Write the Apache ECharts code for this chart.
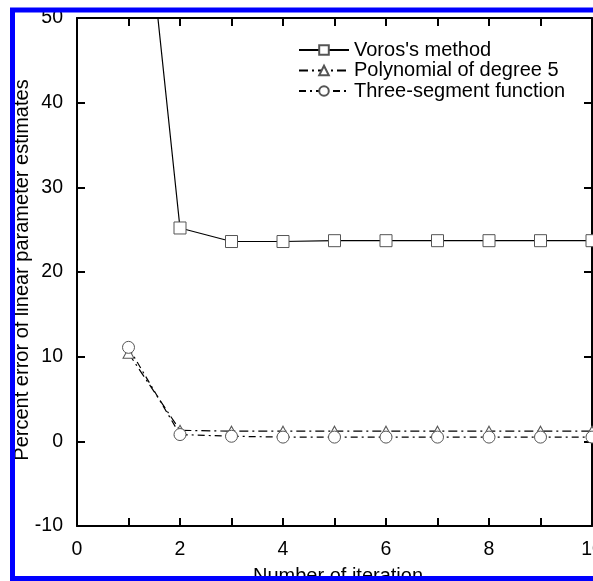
<!DOCTYPE html>
<html><head><meta charset="utf-8">
<script src="https://cdn.jsdelivr.net/npm/echarts@6/dist/echarts.min.js"></script>
<style>html,body{margin:0;padding:0;background:#fff;overflow:hidden}#c{width:593px;height:581px}</style>
</head><body><div id="c"></div>
<script>
const iterations = [1,2,3,4,5,6,7,8,9,10];
const voros = [83, 25.2, 23.6, 23.6, 23.7, 23.7, 23.7, 23.7, 23.7, 23.7];
const poly5 = [10.4, 1.3, 1.2, 1.2, 1.2, 1.2, 1.2, 1.2, 1.2, 1.2];
const threeSeg = [11.1, 0.8, 0.6, 0.5, 0.5, 0.5, 0.5, 0.5, 0.5, 0.5];
const seriesNames = ["Voros's method", "Polynomial of degree 5", "Three-segment function"];
const xTitle = "Number of iteration";
const yTitle = "Percent error of linear parameter estimates";

const FONT = "'Liberation Sans', Arial, sans-serif";
const pair = arr => iterations.map((x,i)=>[x, arr[i]]);
const chart = echarts.init(document.getElementById('c'), null, {renderer:'canvas'});
const axisCommon = {
  axisLine:{show:true, onZero:false, lineStyle:{color:'#000', width:2}},
  axisTick:{show:true, inside:true, length:8, lineStyle:{color:'#000', width:2}},
  splitLine:{show:false}
};
const markerStyle = {color:'#fff', borderColor:'#555', borderWidth:1};
chart.setOption({
  animation:false,
  grid:{left:77, top:18, width:515, height:508, containLabel:false, outerBoundsMode:'none'},
  xAxis:[
    Object.assign({type:'value', min:0, max:10, interval:1, position:'bottom',
      axisLabel:{color:'#000', fontSize:19.5, fontFamily:FONT, margin:14, hideOverlap:false,
        formatter:v => (v % 2 === 0 ? String(v) : '')}}, axisCommon),
    Object.assign({type:'value', min:0, max:10, interval:1, position:'top',
      axisLabel:{show:false}}, axisCommon)
  ],
  yAxis:[
    Object.assign({type:'value', min:-10, max:50, interval:10, position:'left',
      axisLabel:{color:'#000', fontSize:19.5, fontFamily:FONT, margin:14}}, axisCommon),
    Object.assign({type:'value', min:-10, max:50, interval:10, position:'right',
      axisLabel:{show:false}}, axisCommon)
  ],
  legend:{
    left:298, top:40, orient:'vertical', itemWidth:50, itemHeight:12, itemGap:0.5, padding:0,
    textStyle:{color:'#000', fontSize:20, lineHeight:20, fontFamily:FONT},
    data:seriesNames
  },
  series:[
    {name:seriesNames[0], type:'line', data:pair(voros), clip:true,
      symbol:'rect', symbolSize:12, itemStyle:markerStyle,
      lineStyle:{color:'#000', width:1.2, type:'solid'}},
    {name:seriesNames[1], type:'line', data:pair(poly5), clip:true,
      symbol:'triangle', symbolSize:[11,10], itemStyle:markerStyle,
      lineStyle:{color:'#000', width:1.2, type:[9,4,2,4]}},
    {name:seriesNames[2], type:'line', data:pair(threeSeg), clip:true,
      symbol:'circle', symbolSize:12, itemStyle:markerStyle,
      lineStyle:{color:'#000', width:1.2, type:[7,4,2,4]}}
  ],
  graphic:[
    {type:'text', x:22, y:270, rotation:Math.PI/2, z:10,
      style:{text:yTitle, fill:'#000', font:'20px '+FONT, textAlign:'center', textVerticalAlign:'middle'}},
    {type:'text', x:338, y:576, z:10,
      style:{text:xTitle, fill:'#000', font:'20px '+FONT, textAlign:'center', textVerticalAlign:'middle'}},
    {type:'rect', z:20, shape:{x:12.5, y:10, width:700, height:568.5},
      style:{fill:null, stroke:'#0000ff', lineWidth:5}}
  ]
});
</script></body></html>
